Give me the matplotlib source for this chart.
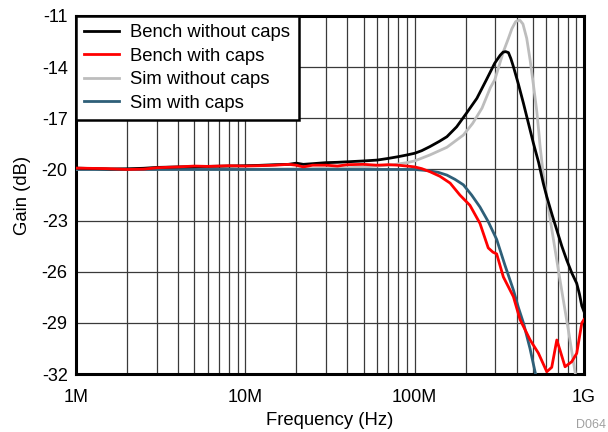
import matplotlib
matplotlib.use('Agg')
import matplotlib.pyplot as plt
from matplotlib.ticker import FixedLocator, NullFormatter

plt.rcParams['font.family'] = ['Liberation Sans', 'DejaVu Sans']

# frequencies in MHz, gain in dB
bench_nocap_f = [1, 1.3, 1.6, 2, 2.5, 3, 4, 5, 6, 8, 10, 12, 15, 18, 20, 22, 25, 30, 35, 40,
                 50, 60, 70, 80, 90, 100, 110, 123, 140, 155, 177, 202, 233, 265, 297, 320,
                 333, 345, 358, 370, 383, 410, 439, 470, 503, 540, 575, 603, 650, 691, 740,
                 790, 850, 906, 940, 971, 1000]
bench_nocap_db = [-19.92, -19.95, -19.97, -19.96, -19.93, -19.88, -19.85, -19.84, -19.82, -19.8,
                  -19.78, -19.76, -19.72, -19.7, -19.63, -19.7, -19.66, -19.6, -19.58, -19.55,
                  -19.5, -19.45, -19.35, -19.25, -19.15, -19.05, -18.9, -18.66, -18.35, -18.08,
                  -17.5, -16.71, -15.83, -14.75, -13.77, -13.3, -13.12, -13.09, -13.15, -13.5,
                  -13.97, -15.0, -16.12, -17.3, -18.47, -19.6, -20.81, -21.6, -22.7, -23.55,
                  -24.5, -25.3, -26.1, -26.68, -27.3, -28.0, -28.33]

bench_cap_f = [1, 1.5, 2, 2.5, 3, 4, 5, 6, 8, 10, 12, 15, 18, 20, 22, 25, 30, 35, 40, 50, 60,
               70, 80, 90, 100, 110, 123, 141, 162, 185, 212, 243, 272, 290, 305, 334, 383,
               419, 481, 538, 603, 645, 691, 722, 773, 847, 906, 971, 1000]
bench_cap_db = [-19.92, -19.95, -20.0, -19.98, -19.9, -19.85, -19.8, -19.82, -19.78, -19.8,
                -19.78, -19.75, -19.7, -19.75, -19.85, -19.75, -19.75, -19.8, -19.72, -19.7,
                -19.75, -19.72, -19.75, -19.8, -19.85, -19.95, -20.13, -20.4, -20.8, -21.5,
                -22.1, -23.16, -24.6, -24.85, -24.95, -26.3, -27.46, -28.8, -30.0, -30.77,
                -31.86, -31.6, -30.0, -30.6, -31.57, -31.27, -30.78, -29.0, -28.8]

sim_nocap_f = [1, 10, 20, 30, 40, 50, 60, 75, 90, 100, 123, 155, 194, 220, 250, 280, 297, 334,
               358, 375, 395, 417, 436, 459, 481, 503, 525, 541, 550, 575, 628, 722, 808,
               888, 920]
sim_nocap_db = [-20.0, -19.99, -19.96, -19.93, -19.9, -19.85, -19.8, -19.72, -19.6, -19.5,
                -19.15, -18.7, -17.98, -17.3, -16.4, -15.2, -14.75, -13.1, -12.31, -11.75,
                -11.33, -11.23, -11.47, -12.31, -13.6, -15.05, -16.5, -17.8, -18.6, -20.3,
                -22.77, -26.5, -29.4, -31.95, -33.0]

sim_cap_f = [1, 10, 50, 100, 120, 138, 155, 173, 194, 217, 243, 272, 305, 341, 383, 410, 439,
             480, 514, 540]
sim_cap_db = [-20.0, -20.0, -20.0, -20.0, -20.07, -20.17, -20.33, -20.58, -20.9, -21.5, -22.2,
              -23.06, -24.1, -25.6, -27.07, -28.1, -29.0, -30.5, -31.86, -32.8]

x_ticks = [1e6, 1e7, 1e8, 1e9]
x_labels = ['1M', '10M', '100M', '1G']
y_ticks = [-32, -29, -26, -23, -20, -17, -14, -11]

fig = plt.figure(figsize=(6.08, 4.32), dpi=100)
ax = fig.add_axes([0.125, 0.134, 0.8355, 0.829])

def hz(f):
    return [v * 1e6 for v in f]

ax.plot(hz(bench_nocap_f), bench_nocap_db, color='black', lw=2, label='Bench without caps', zorder=4)
ax.plot(hz(bench_cap_f), bench_cap_db, color='#ff0000', lw=2, label='Bench with caps', zorder=5)
ax.plot(hz(sim_nocap_f), sim_nocap_db, color='#bdbdbd', lw=2, label='Sim without caps', zorder=3)
ax.plot(hz(sim_cap_f), sim_cap_db, color='#2e5f78', lw=2, label='Sim with caps', zorder=3)

ax.set_xscale('log')
ax.set_xlim(1e6, 1e9)
ax.set_ylim(-32, -11)

minor = [m * 10 ** e for e in range(6, 9) for m in range(2, 10)]
ax.xaxis.set_minor_locator(FixedLocator(minor))
ax.xaxis.set_minor_formatter(NullFormatter())
ax.set_xticks(x_ticks)
ax.set_xticklabels(x_labels)
ax.set_yticks(y_ticks)
ax.set_yticklabels([str(v) for v in y_ticks])

ax.grid(True, which='both', axis='x', color='#3a3a3a', lw=0.9)
ax.grid(True, which='major', axis='y', color='#3a3a3a', lw=0.9)
ax.tick_params(which='both', length=0, labelsize=13)
ax.tick_params(axis='x', pad=11)
ax.tick_params(axis='y', pad=6)

for s in ax.spines.values():
    s.set_linewidth(2.2)
    s.set_color('black')

ax.set_xlabel('Frequency (Hz)', fontsize=13.3, labelpad=4)
ax.set_ylabel('Gain (dB)', fontsize=13.3, labelpad=8)

leg = ax.legend(loc='upper left', fontsize=13.3, frameon=True, fancybox=False,
                borderaxespad=0, handlelength=1.9, handletextpad=0.6,
                labelspacing=0.35, borderpad=0.45)
leg.get_frame().set_edgecolor('black')
leg.get_frame().set_linewidth(1.8)
leg.get_frame().set_alpha(1)

fig.text(0.997, 0.01, 'D064', color='#a0a0a0', fontsize=9, ha='right')

fig.savefig('out.png', dpi=100)
